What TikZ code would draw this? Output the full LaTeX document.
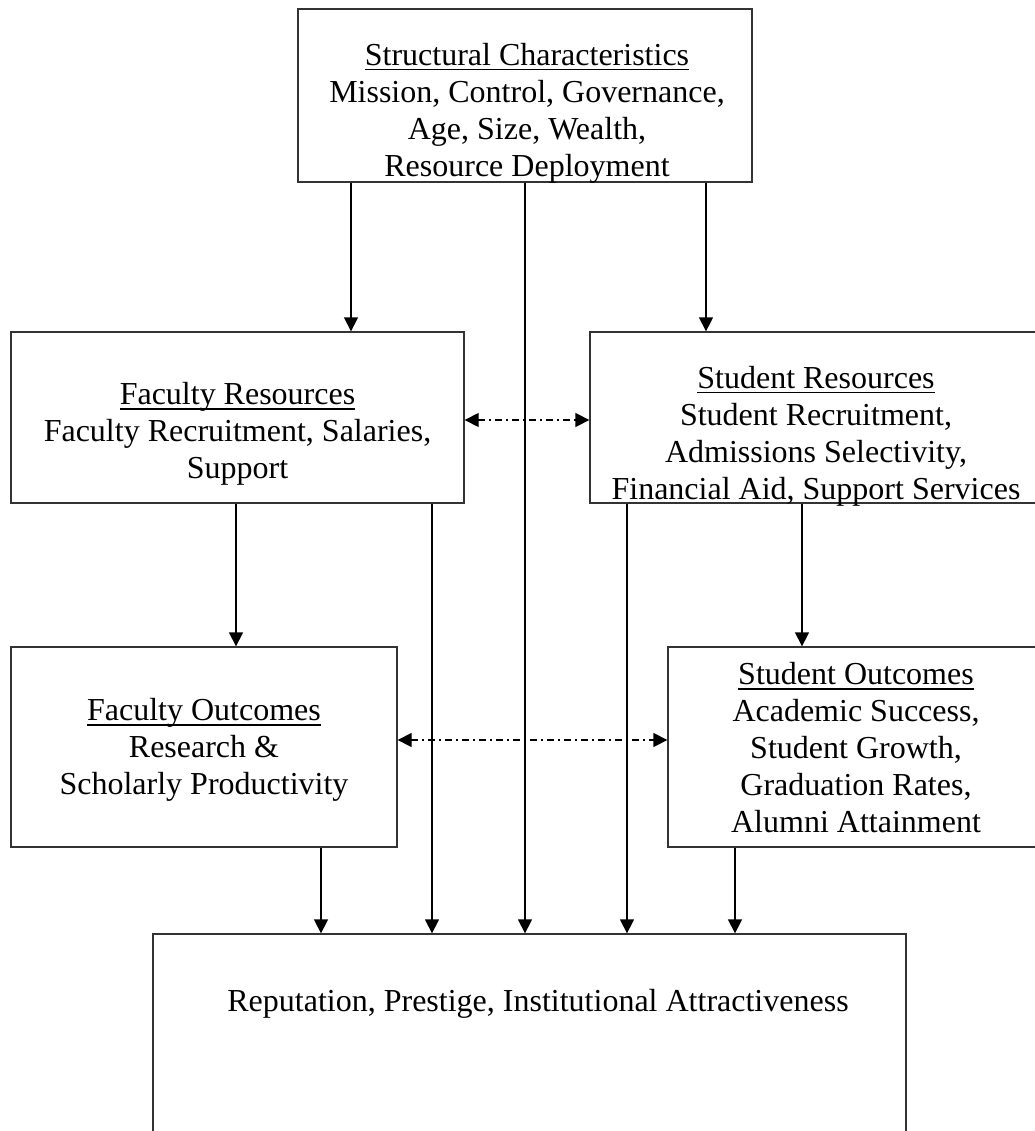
\documentclass[tikz,border=0pt]{standalone}
\usepackage{fontspec}
\setmainfont{Liberation Serif}
\usetikzlibrary{arrows.meta,positioning}
\newcommand{\ulbar}[1]{\leavevmode\setbox0=\hbox{#1}\rlap{\rule[-5pt]{\wd0}{1.6pt}}\box0}

\begin{document}
\begin{tikzpicture}[x=1pt,y=-1pt,
  box/.style={draw=black!80,line width=1.3pt,inner sep=0pt},
  txt/.style={align=center,font=\fontsize{32}{37}\selectfont},
  arr/.style={-{Triangle[length=14pt,width=14pt]},line width=1.3pt},
  duo/.style={{Triangle[length=14pt,width=14pt]}-{Triangle[length=14pt,width=14pt]},
    line width=1.3pt,dash pattern=on 7pt off 4pt on 2pt off 4pt}]
\useasboundingbox (0,0) rectangle (1034,1131);

% boxes
\node[box,minimum width=454pt,minimum height=173pt] (struct) at (525,95.5) {};
\node[box,minimum width=453pt,minimum height=171pt] (fres) at (237.5,417.5) {};
\node[box,minimum width=453pt,minimum height=171pt] (sres) at (816.5,417.5) {};
\node[box,minimum width=386pt,minimum height=200pt] (fout) at (204,747) {};
\node[box,minimum width=376pt,minimum height=200pt] (sout) at (856,747) {};
\node[box,minimum width=753pt,minimum height=266pt] (rep) at (529.5,1067) {};

% texts
\node[txt] (structtxt) at (527,113) {\ulbar{Structural Characteristics}\\
  Mission, Control, Governance,\\ Age, Size, Wealth,\\ Resource Deployment};
\node[txt] (frestxt) at (237.5,434) {\ulbar{Faculty Resources}\\
  Faculty Recruitment, Salaries,\\ Support};
\node[txt] (srestxt) at (816,436) {\ulbar{Student Resources}\\
  Student Recruitment,\\ Admissions Selectivity,\\ Financial Aid, Support Services};
\node[txt] (fouttxt) at (204,750) {\ulbar{Faculty Outcomes}\\
  Research \&\\ Scholarly Productivity};
\node[txt] (souttxt) at (856,748) {\ulbar{Student Outcomes}\\
  Academic Success,\\ Student Growth,\\ Graduation Rates,\\ Alumni Attainment};
\node[txt] (reptxt) at (538,1004) {Reputation, Prestige, Institutional Attractiveness};

% x positions of the vertical links
\coordinate (xa) at (351,0);
\coordinate (xb) at (706,0);
\coordinate (xc) at (236,0);
\coordinate (xd) at (802,0);
\coordinate (xe) at (321,0);
\coordinate (xf) at (432,0);
\coordinate (xg) at (525,0);
\coordinate (xh) at (627,0);
\coordinate (xi) at (735,0);
\coordinate (ya) at (0,420);
\coordinate (yb) at (0,740);

\draw[arr] (struct.south -| xa) -- (fres.north -| xa);
\draw[arr] (struct.south -| xb) -- (sres.north -| xb);
\draw[arr] (struct.south -| xg) -- (rep.north -| xg);
\draw[arr] (fres.south -| xc) -- (fout.north -| xc);
\draw[arr] (fres.south -| xf) -- (rep.north -| xf);
\draw[arr] (sres.south -| xd) -- (sout.north -| xd);
\draw[arr] (sres.south -| xh) -- (rep.north -| xh);
\draw[arr] (fout.south -| xe) -- (rep.north -| xe);
\draw[arr] (sout.south -| xi) -- (rep.north -| xi);

\draw[duo] (fres.east |- ya) -- (sres.west |- ya);
\draw[duo] (fout.east |- yb) -- (sout.west |- yb);
\end{tikzpicture}
\end{document}
